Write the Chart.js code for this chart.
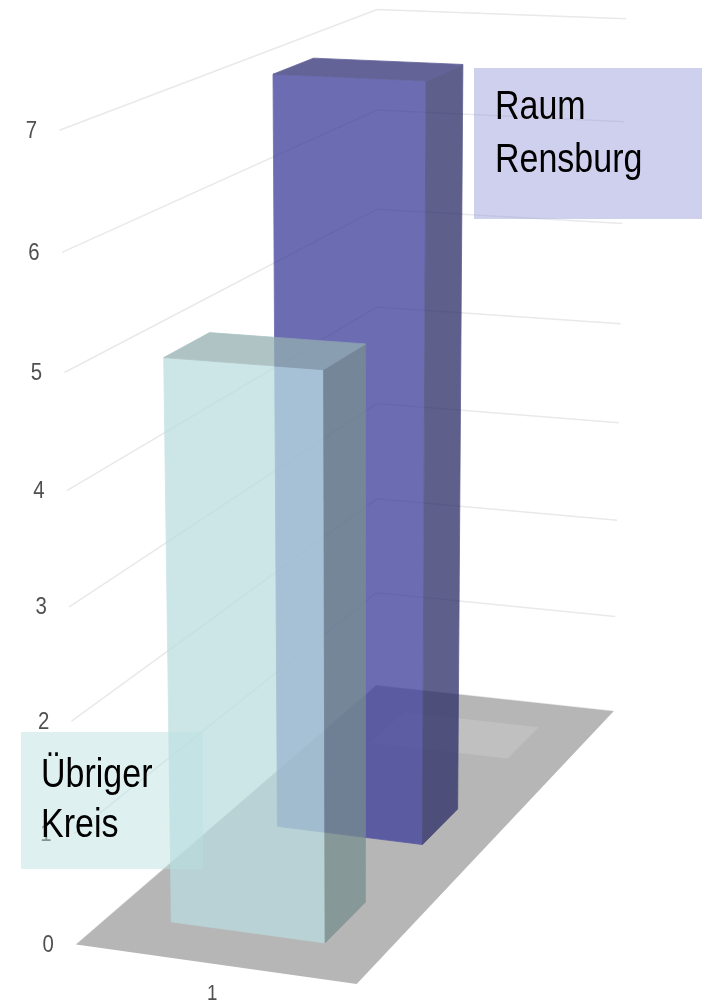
<!DOCTYPE html>
<html lang="de">
<head>
<meta charset="utf-8">
<title>Raum Rensburg / Übriger Kreis</title>
<script src="https://cdn.jsdelivr.net/npm/chart.js@4.4.1/dist/chart.umd.min.js"></script>
<style>
html,body{margin:0;padding:0;background:#ffffff;overflow:hidden;}
canvas{display:block;}
</style>
</head>
<body>
<canvas id="chart" width="706" height="1003"></canvas>
<script>
// ---------------- data ----------------
const categories = ['1'];
const seriesLabels = ['Übriger Kreis', 'Raum Rensburg'];
const uebrigerKreisValues = [5.0];
const raumRensburgValues = [7.0];
const yTickValues = [0, 1, 2, 3, 4, 5, 6, 7];

// ---------------- layout / style ----------------
const Y_MIN = 0, Y_MAX = 7;
// scene calibration: [u (category axis 0..1), d (depth 0..1), axis value, screen x, screen y]
const SCENE_CAL = [
  [0,0,0,75.5,944.5],[0,0,2,71,721.7],[0,0,3,69.3,605.7],[0,0,4,66.7,490.7],
  [0,0,5,64.3,372.7],[0,0,6,62.3,252.3],[0,0,7,59.3,130.7],
  [0,1,0,376,685],[0,1,4,377.5,308],[0,1,5,377.5,209],[0,1,6,377.5,110],[0,1,7,376.7,9.3],
  [1,1,0,613,711.5],[1,1,4,621.7,325],[1,1,5,623,226],[1,1,6,621.7,115],[1,1,7,626.7,21.7],
  [1,0,0,358,984]
];
const DEPTH_START = 0.1, DEPTH_STEP = 0.335, DEPTH_WIDTH = 0.133;
const BAR_HALF_WIDTH = 0.279;
const FONT = "'Liberation Sans', Arial, Helvetica, sans-serif";
const TEXT_SX = 0.85;
const seriesStyle = [
  { alpha: 0.74, front: 'rgb(186,221,224)', side: 'rgb(120,142,144)', top: 'rgb(147,175,176)' },
  { alpha: 0.77, front: 'rgb(64,64,156)',   side: 'rgb(47,47,106)',   top: 'rgb(52,52,122)' }
];
const legendBoxes = [
  { rect: [21, 732, 182, 137], fill: 'rgba(187,223,223,0.47)', textX: 41, baselines: [787, 837] },
  { rect: [474, 68, 228, 151], fill: 'rgba(153,153,219,0.47)', textX: 495, baselines: [119, 172] }
];

// ---------------- camera ----------------
function fitCamera(pts) {
  const n = 11;
  const M = Array.from({ length: n }, () => new Array(n + 1).fill(0));
  const addRow = (row, rhs) => {
    for (let i = 0; i < n; i++) {
      for (let j = 0; j < n; j++) M[i][j] += row[i] * row[j];
      M[i][n] += row[i] * rhs;
    }
  };
  for (const [X, Y, Z, x, y] of pts) {
    addRow([X, Y, Z, 1, 0, 0, 0, 0, -x * X, -x * Y, -x * Z], x);
    addRow([0, 0, 0, 0, X, Y, Z, 1, -y * X, -y * Y, -y * Z], y);
  }
  for (let c = 0; c < n; c++) {
    let piv = c;
    for (let r = c + 1; r < n; r++) if (Math.abs(M[r][c]) > Math.abs(M[piv][c])) piv = r;
    [M[c], M[piv]] = [M[piv], M[c]];
    for (let r = 0; r < n; r++) {
      if (r === c) continue;
      const f = M[r][c] / M[c][c];
      for (let k = c; k <= n; k++) M[r][k] -= f * M[c][k];
    }
  }
  return M.map((row, i) => row[n] / row[i]);
}
function project(p, X, Y, Z) {
  const w = p[8] * X + p[9] * Y + p[10] * Z + 1;
  return [(p[0] * X + p[1] * Y + p[2] * Z + p[3]) / w, (p[4] * X + p[5] * Y + p[6] * Z + p[7]) / w];
}

function drawText(ctx, txt, x, y, sx) {
  ctx.save();
  ctx.translate(x, y);
  ctx.scale(sx, 1);
  ctx.fillText(txt, 0, 0);
  ctx.restore();
}

const scene3d = {
  id: 'scene3d',
  afterDraw(chart) {
    const ctx = chart.ctx;
    const W = chart.canvas.width, Hc = chart.canvas.height;
    const ys = chart.scales.y, xs = chart.scales.x;
    const basePx = ys.getPixelForValue(ys.min), topPx = ys.getPixelForValue(ys.max);
    const hOf = v => (basePx - ys.getPixelForValue(v)) / (basePx - topPx);
    const uOf = j => (xs.getPixelForValue(j) - xs.left) / xs.width;
    const P = fitCamera(SCENE_CAL.map(([u, d, v, x, y]) => [u, d, hOf(v), x, y]));
    const pr = (u, d, h) => project(P, u, d, h);
    const path = (c, pts) => {
      c.beginPath();
      pts.forEach(([u, d, h], k) => { const [x, y] = pr(u, d, h); k ? c.lineTo(x, y) : c.moveTo(x, y); });
      c.closePath();
    };
    const poly = (c, pts, fill, seam) => {
      path(c, pts);
      c.fillStyle = fill;
      c.fill();
      if (seam) { c.strokeStyle = fill; c.lineWidth = 0.8; c.lineJoin = 'round'; c.stroke(); }
    };
    ctx.save();
    // wall grid lines
    ctx.strokeStyle = '#e9e9e9';
    ctx.lineWidth = 1.5;
    ys.ticks.forEach(t => {
      const h = hOf(t.value);
      ctx.beginPath();
      [[0, 0], [0, 1], [1, 1]].forEach(([u, d], k) => { const [x, y] = pr(u, d, h); k ? ctx.lineTo(x, y) : ctx.moveTo(x, y); });
      ctx.stroke();
    });
    // floor
    poly(ctx, [[0, 0, 0], [1, 0, 0], [1, 1, 0], [0, 1, 0]], '#b6b6b6');
    // empty third depth slot (lighter patch on the floor)
    categories.forEach((c, j) => {
      const uc = uOf(j), d0 = DEPTH_START + 2 * DEPTH_STEP, d1 = d0 + DEPTH_WIDTH;
      poly(ctx, [[uc - BAR_HALF_WIDTH, d0, 0], [uc + BAR_HALF_WIDTH, d0, 0], [uc + BAR_HALF_WIDTH, d1, 0], [uc - BAR_HALF_WIDTH, d1, 0]], 'rgba(255,255,255,0.15)');
    });
    // tick labels
    ctx.fillStyle = '#505050';
    ctx.textAlign = 'center';
    ctx.textBaseline = 'middle';
    ctx.font = '24px ' + FONT;
    ys.ticks.forEach(t => {
      const [x, y] = pr(0, 0, hOf(t.value));
      drawText(ctx, String(t.value), x - 28, y + 1, TEXT_SX);
    });
    ctx.font = '22px ' + FONT;
    categories.forEach((c, j) => {
      const [x, y] = pr(uOf(j), 0, 0);
      drawText(ctx, c, x - 2, y + 30, TEXT_SX);
    });
    // 3D bars, back to front; each box composed opaque off-screen then blended with its opacity
    const off = document.createElement('canvas');
    off.width = W; off.height = Hc;
    const oc = off.getContext('2d');
    const ds = chart.data.datasets;
    for (let i = ds.length - 1; i >= 0; i--) {
      const st = seriesStyle[i];
      ds[i].data.forEach((v, j) => {
        const uc = uOf(j), u0 = uc - BAR_HALF_WIDTH, u1 = uc + BAR_HALF_WIDTH;
        const d0 = DEPTH_START + i * DEPTH_STEP, d1 = d0 + DEPTH_WIDTH;
        const h0 = hOf(0), h1 = hOf(v);
        oc.clearRect(0, 0, W, Hc);
        poly(oc, [[u0, d0, h0], [u1, d0, h0], [u1, d0, h1], [u0, d0, h1]], st.front, true);
        poly(oc, [[u1, d0, h0], [u1, d1, h0], [u1, d1, h1], [u1, d0, h1]], st.side, true);
        poly(oc, [[u0, d0, h1], [u1, d0, h1], [u1, d1, h1], [u0, d1, h1]], st.top, true);
        ctx.save();
        ctx.globalAlpha = st.alpha;
        ctx.drawImage(off, 0, 0);
        ctx.restore();
      });
    }
    // series labels (boxes)
    legendBoxes.forEach((b, i) => {
      const [x, y, w, h] = b.rect;
      ctx.fillStyle = b.fill;
      ctx.fillRect(x, y, w, h);
      ctx.fillStyle = '#000000';
      ctx.textAlign = 'left';
      ctx.textBaseline = 'alphabetic';
      ctx.font = '40px ' + FONT;
      ds[i].label.split(' ').forEach((line, k) => drawText(ctx, line, b.textX, b.baselines[k], TEXT_SX));
    });
    ctx.restore();
  }
};

const chart = new Chart(document.getElementById('chart'), {
  type: 'bar',
  data: {
    labels: categories,
    datasets: [
      { label: seriesLabels[0], data: uebrigerKreisValues, backgroundColor: 'rgba(0,0,0,0)', borderWidth: 0 },
      { label: seriesLabels[1], data: raumRensburgValues, backgroundColor: 'rgba(0,0,0,0)', borderWidth: 0 }
    ]
  },
  options: {
    responsive: false,
    animation: false,
    events: [],
    layout: { padding: 0 },
    plugins: { legend: { display: false }, tooltip: { enabled: false } },
    scales: {
      x: { display: true, grid: { display: false }, border: { display: false }, ticks: { color: 'rgba(0,0,0,0)' } },
      y: {
        display: true, min: Y_MIN, max: Y_MAX,
        afterBuildTicks: s => { s.ticks = yTickValues.map(v => ({ value: v })); },
        grid: { display: false }, border: { display: false }, ticks: { color: 'rgba(0,0,0,0)' }
      }
    }
  },
  plugins: [scene3d]
});
</script>
</body>
</html>
